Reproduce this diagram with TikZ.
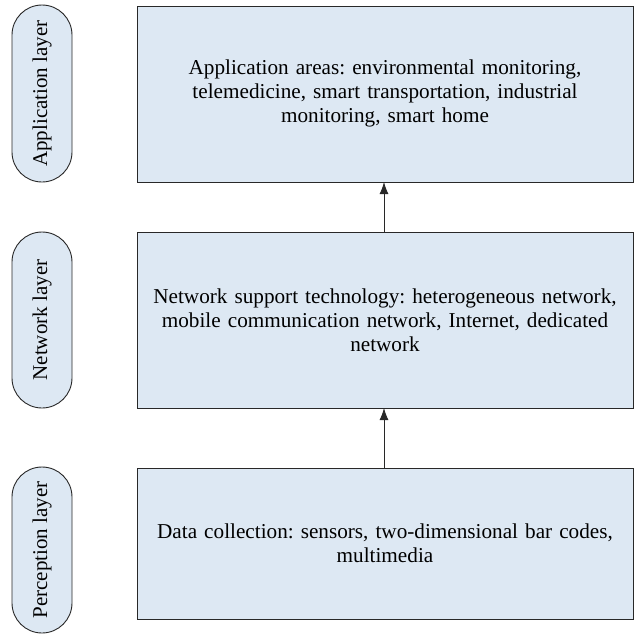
\documentclass[tikz,border=0pt]{standalone}
\usepackage{fontspec}
\setmainfont{Liberation Serif}
\usetikzlibrary{arrows.meta}
\definecolor{layerfill}{RGB}{221,232,243}
\definecolor{edge}{RGB}{40,40,40}
\tikzset{
  x=1pt, y=-1pt,
  layerbox/.style={draw=edge, fill=layerfill, line width=0.9pt},
  pill/.style={draw=edge, fill=layerfill, line width=0.9pt, rounded corners=30pt},
  boxtext/.style={align=center, font=\fontsize{21.2}{24}\selectfont\frenchspacing, text width=490pt},
  pilltext/.style={rotate=90, font=\fontsize{21}{22}\selectfont},
  uparrow/.style={draw=edge, line width=0.9pt, -{Latex[length=12pt,width=9pt]}}
}
\begin{document}
\begin{tikzpicture}
\useasboundingbox (0,0) rectangle (635,635);
% layer names
\draw[pill] (12,5) rectangle (72,182);
\node[pilltext] (appl) at (42,93.5) {Application layer};
\draw[pill] (12,232) rectangle (72,408);
\node[pilltext] (netl) at (42,320) {Network layer};
\draw[pill] (12,467) rectangle (72,633);
\node[pilltext] (perl) at (42,550) {Perception layer};
% content boxes
\draw[layerbox] (137,6) rectangle (633,182);
\node[boxtext] (app) at (385,93) {Application areas: environmental monitoring,\\ telemedicine, smart transportation, industrial\\ monitoring, smart home};
\draw[layerbox] (137,232) rectangle (633,408);
\node[boxtext] (net) at (385,320) {Network support technology: heterogeneous network,\\ mobile communication network, Internet, dedicated\\ network};
\draw[layerbox] (137,468) rectangle (633,619);
\node[boxtext] (per) at (385,543) {Data collection: sensors, two-dimensional bar codes,\\ multimedia};
% upward flow between the layers
\coordinate (apptop) at (384,182);
\coordinate (netbot) at (384,232);
\coordinate (nettop) at (384,408);
\coordinate (perbot) at (384,468);
\draw[uparrow] (netbot) -- (apptop);
\draw[uparrow] (perbot) -- (nettop);
\end{tikzpicture}
\end{document}
